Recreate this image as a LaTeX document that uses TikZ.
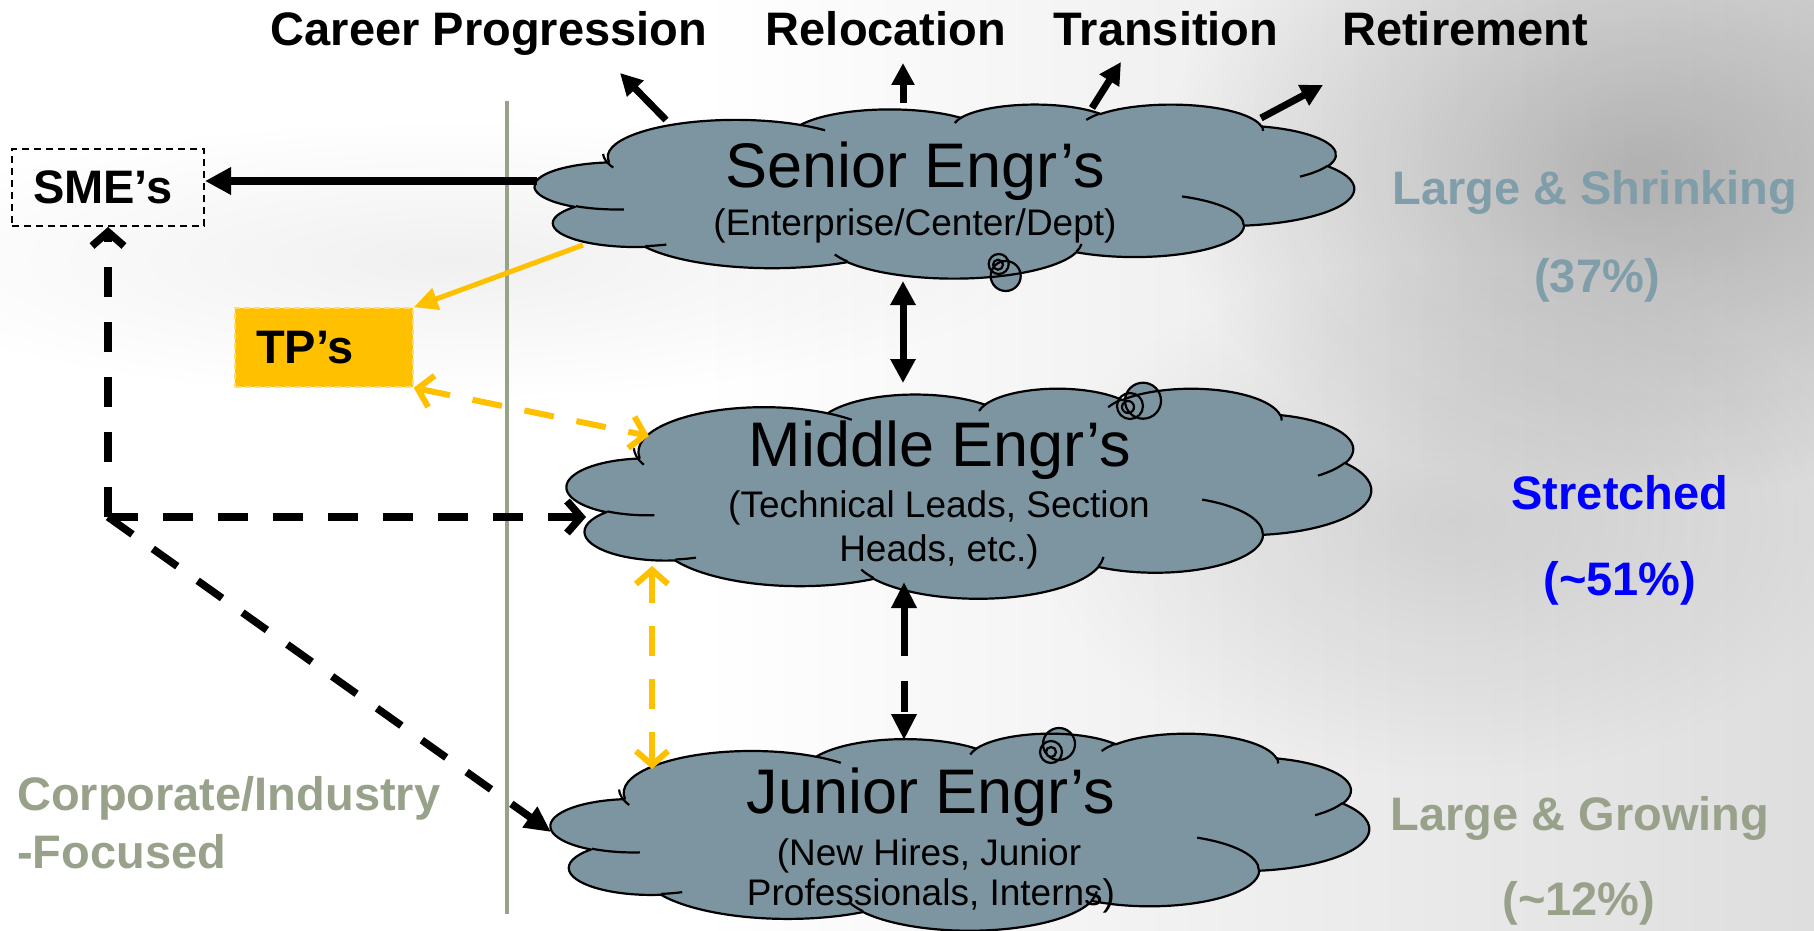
\documentclass[tikz,border=0pt]{standalone}
\usepackage{fontspec}
\setmainfont{Liberation Sans}
\usetikzlibrary{arrows.meta,fadings}
\definecolor{cloudfill}{HTML}{7C95A1}
\definecolor{steeltxt}{HTML}{809DAA}
\definecolor{sage}{HTML}{98A28B}
\definecolor{gold}{HTML}{FFC000}
\definecolor{pureblue}{HTML}{0000FF}
\tikzfading[name=softblob, inner color=transparent!0, outer color=transparent!100]
\newcommand\cldarc[4]{%
 \pgfmathsetmacro\cldA{atan2(#1*sin(#3),#2*cos(#3))}%
 \pgfmathsetmacro\cldB{atan2(#1*sin(#3+#4),#2*cos(#3+#4))}%
 \pgfmathsetmacro\cldC{\cldA+mod(\cldB-\cldA+720,360)}%
 \pgfpatharc{\cldA}{\cldC}{#1pt and #2pt}%
}
\newcommand\officecloud[4]{%
 \begin{scope}[shift={(#1,#2)},xscale=#3/432,yscale=#4/432]
 \pgfsetlinewidth{2.2pt}\pgfsetfillcolor{cloudfill}\pgfsetstrokecolor{black}\pgfsetroundjoin
 \pgfpathmoveto{\pgfpoint{39pt}{143.7pt}}
 \cldarc{67.53}{91.90}{-190.4875}{123.7805}
 \cldarc{53.33}{72.67}{-144.1024}{89.9452}
 \cldarc{43.65}{59.45}{-145.8079}{99.7230}
 \cldarc{48.57}{65.95}{-130.9861}{117.2417}
 \cldarc{53.33}{72.73}{-78.7089}{109.0269}
 \cldarc{67.75}{92.20}{-46.2673}{130.2690}
 \cldarc{57.85}{78.67}{0.6250}{114.0333}
 \cldarc{67.52}{92.15}{22.4516}{115.1726}
 \cldarc{77.20}{105.43}{66.2426}{75.7110}
 \cldarc{43.60}{59.18}{-274.9421}{146.7356}
 \cldarc{43.45}{59.45}{-246.8285}{152.5189}
 \pgfpathclose
 \pgfusepath{fill,stroke}
 \pgfpathmoveto{\pgfpoint{46.93pt}{261.77pt}}\cldarc{43.45}{59.45}{86.7420}{26.4295}
 \pgfpathmoveto{\pgfpoint{69.28pt}{348.99pt}}\cldarc{43.60}{59.18}{73.6105}{11.4475}
 \pgfpathmoveto{\pgfpoint{164.78pt}{390.90pt}}\cldarc{67.52}{92.15}{137.6242}{14.0811}
 \pgfpathmoveto{\pgfpoint{288.27pt}{347.51pt}}\cldarc{67.52}{92.15}{6.4533}{15.9984}
 \pgfpathmoveto{\pgfpoint{341.29pt}{229.54pt}}\cldarc{57.85}{78.67}{-70.2924}{70.9174}
 \pgfpathmoveto{\pgfpoint{417.98pt}{153.54pt}}\cldarc{53.33}{72.73}{30.3180}{27.7515}
 \pgfpathmoveto{\pgfpoint{383.24pt}{54.26pt}}\cldarc{48.57}{65.95}{-13.7443}{14.8589}
 \pgfpathmoveto{\pgfpoint{290.78pt}{39.52pt}}\cldarc{48.57}{65.95}{-149.1815}{18.1954}
 \pgfpathmoveto{\pgfpoint{221.41pt}{47.20pt}}\cldarc{43.65}{59.45}{-163.4943}{17.6864}
 \pgfpathmoveto{\pgfpoint{140.00pt}{51.92pt}}\cldarc{67.53}{91.90}{-66.7070}{12.3194}
 \pgfpathmoveto{\pgfpoint{41.27pt}{157.89pt}}\cldarc{67.53}{91.90}{150.0}{28.3336}
 \pgfusepath{stroke}
 \end{scope}}
\begin{document}
\begin{tikzpicture}[x=1pt,y=1pt,yscale=-1,
  toplbl/.style={font=\fontsize{47}{56}\selectfont\bfseries, inner sep=0pt},
  cldtitle/.style={font=\fontsize{63}{70}\selectfont, inner sep=0pt},
  cldsub/.style={font=\fontsize{37}{43}\selectfont, inner sep=0pt},
  blkline/.style={line width=7pt, black},
  blkdash/.style={line width=7.5pt, black, dash pattern=on 30pt off 25pt},
  goldline/.style={line width=5pt, gold},
  golddash/.style={line width=6pt, gold, dash pattern=on 30pt off 23pt},
  bubble/.style={line width=2.2pt}]
\useasboundingbox (0,0) rectangle (1814,931);
% background
\fill[white] (0,0) rectangle (1814,931);
\shade[left color=white, right color=black!13] (700,0) rectangle (1814,931);
\fill[black, opacity=0.22, path fading=softblob] (1640,170) ellipse (480pt and 330pt);
\fill[black, opacity=0.10, path fading=softblob] (1450,520) ellipse (420pt and 260pt);
\fill[black, opacity=0.06, path fading=softblob] (450,260) ellipse (600pt and 140pt);
% divider
\draw[sage, line width=4pt] (507,101) -- (507,914);
% clouds: bubble fills behind
\fill[cloudfill] (1005.7,276) circle[radius=15pt] (1143,400.7) circle[radius=18pt] (1059,744) circle[radius=16pt];
\officecloud{535}{104}{819}{174}
\officecloud{567}{388}{804}{210}
\officecloud{551}{733}{818}{197}
\draw[bubble] (1005.7,276) circle[radius=15pt] (998.7,264) circle[radius=10pt] (998,264.7) circle[radius=5pt];
\draw[bubble] (1143,400.7) circle[radius=18pt] (1130,406) circle[radius=13pt] (1128,407) circle[radius=6pt];
\draw[bubble] (1059,744) circle[radius=16pt] (1051,752) circle[radius=11pt] (1051,752) circle[radius=5pt];
% cloud texts
\node[cldtitle, anchor=base] (sent) at (915,187) {Senior Engr’s};
\node[cldsub, anchor=base] (sens) at (915,235) {(Enterprise/Center/Dept)};
\node[cldtitle, anchor=base] (midt) at (940,466) {Middle Engr’s};
\node[cldsub, anchor=base] (mids1) at (939,517) {(Technical Leads, Section};
\node[cldsub, anchor=base] (mids2) at (939,561) {Heads, etc.)};
\node[cldtitle, anchor=base] (junt) at (931,813) {Junior Engr’s};
\node[cldsub, anchor=base] (juns1) at (929,865) {(New Hires, Junior};
\node[cldsub, anchor=base] (juns2) at (931,905) {Professionals, Interns)};
% top labels
\node[toplbl, anchor=base] (cp) at (489,46) {Career Progression};
\node[toplbl, anchor=base] (rl) at (886,46) {Relocation};
\node[toplbl, anchor=base] (tr) at (1166,46) {Transition};
\node[toplbl, anchor=base] (rt) at (1465,46) {Retirement};
% right labels
\node[toplbl, anchor=base, text=steeltxt] (ls) at (1595,204) {Large \& Shrinking};
\node[toplbl, anchor=base, text=steeltxt] (p37) at (1597,292) {(37\%)};
\node[toplbl, anchor=base, text=pureblue] (st) at (1620,509) {Stretched};
\node[toplbl, anchor=base, text=pureblue] (p51) at (1620,595) {(\textasciitilde 51\%)};
\node[toplbl, anchor=base, text=sage] (lg) at (1580,830) {Large \& Growing};
\node[toplbl, anchor=base, text=sage] (p12) at (1579,915) {(\textasciitilde 12\%)};
\node[toplbl, anchor=base west, text=sage] (ci1) at (17,810) {Corporate/Industry};
\node[toplbl, anchor=base west, text=sage] (ci2) at (17,868) {-Focused};
% boxes
\node[draw, line width=2pt, dash pattern=on 7pt off 5pt, minimum height=77pt, inner xsep=21pt, text width=150pt, align=left, font=\fontsize{47}{56}\selectfont\bfseries] (sme) at (108,187.5) {SME’s};
\node[fill=gold, draw=gold!55!white, line width=1.5pt, dash pattern=on 6pt off 4pt, minimum height=79pt, inner xsep=21pt, text width=136pt, align=left, font=\fontsize{47}{56}\selectfont\bfseries] (tp) at (324,347.5) {TP’s};
% attach points
\coordinate (senCP) at (666,120);  \coordinate (tipCP) at (620,73);
\coordinate (senRL) at (903,103);  \coordinate (tipRL) at (903,63);
\coordinate (senTR) at (1092,108); \coordinate (tipTR) at (1121,62);
\coordinate (senRT) at (1261,118); \coordinate (tipRT) at (1323,85);
\coordinate (senW) at (537,181);
\coordinate (senSW) at (583,245);
\coordinate (senS) at (903,281);
\coordinate (midN) at (903,383);
\coordinate (midS) at (904,582);
\coordinate (junN) at (904,740);
\coordinate (midNW) at (649,436);
\coordinate (midW) at (586,517);
\coordinate (midSW) at (652,566);
\coordinate (junNW) at (652,769);
\coordinate (junW) at (551,832);
\coordinate (corner) at (108,517);
% connectors
\draw[blkline, -{Triangle[length=22pt,width=22pt]}] (senCP) -- (tipCP);
\draw[blkline, -{Triangle[length=22pt,width=22pt]}] (senRL) -- (tipRL);
\draw[blkline, -{Triangle[length=22pt,width=22pt]}] (senTR) -- (tipTR);
\draw[blkline, -{Triangle[length=22pt,width=22pt]}] (senRT) -- (tipRT);
\draw[line width=8pt, -{Triangle[length=26pt,width=26pt]}] (senW) -- (senW -| sme.east);
\draw[goldline, -{Triangle[length=24pt,width=22pt]}] (senSW) -- (tp.north east);
\draw[blkline, {Triangle[length=24pt,width=24pt]}-{Triangle[length=24pt,width=24pt]}] (senS) -- (midN);
\draw[blkline, dash pattern=on 50pt off 25pt on 31pt off 25pt, {Triangle[length=26pt,width=24pt]}-{Triangle[length=26pt,width=24pt]}] (midS) -- (junN);
\draw[golddash, {Straight Barb[length=14pt,width=32pt]}-{Straight Barb[length=14pt,width=32pt]}] (tp.south east) -- (midNW);
\draw[golddash, {Straight Barb[length=14pt,width=32pt]}-{Straight Barb[length=14pt,width=32pt]}] (midSW) -- (junNW);
\draw[blkdash, -{Straight Barb[length=14pt,width=32pt]}] (corner) -- (sme.south);
\draw[blkdash, -{Straight Barb[length=14pt,width=32pt]}] (corner) -- (midW);
\draw[blkdash, -{Triangle[length=26pt,width=24pt]}] (corner) -- (junW);
\end{tikzpicture}
\end{document}
